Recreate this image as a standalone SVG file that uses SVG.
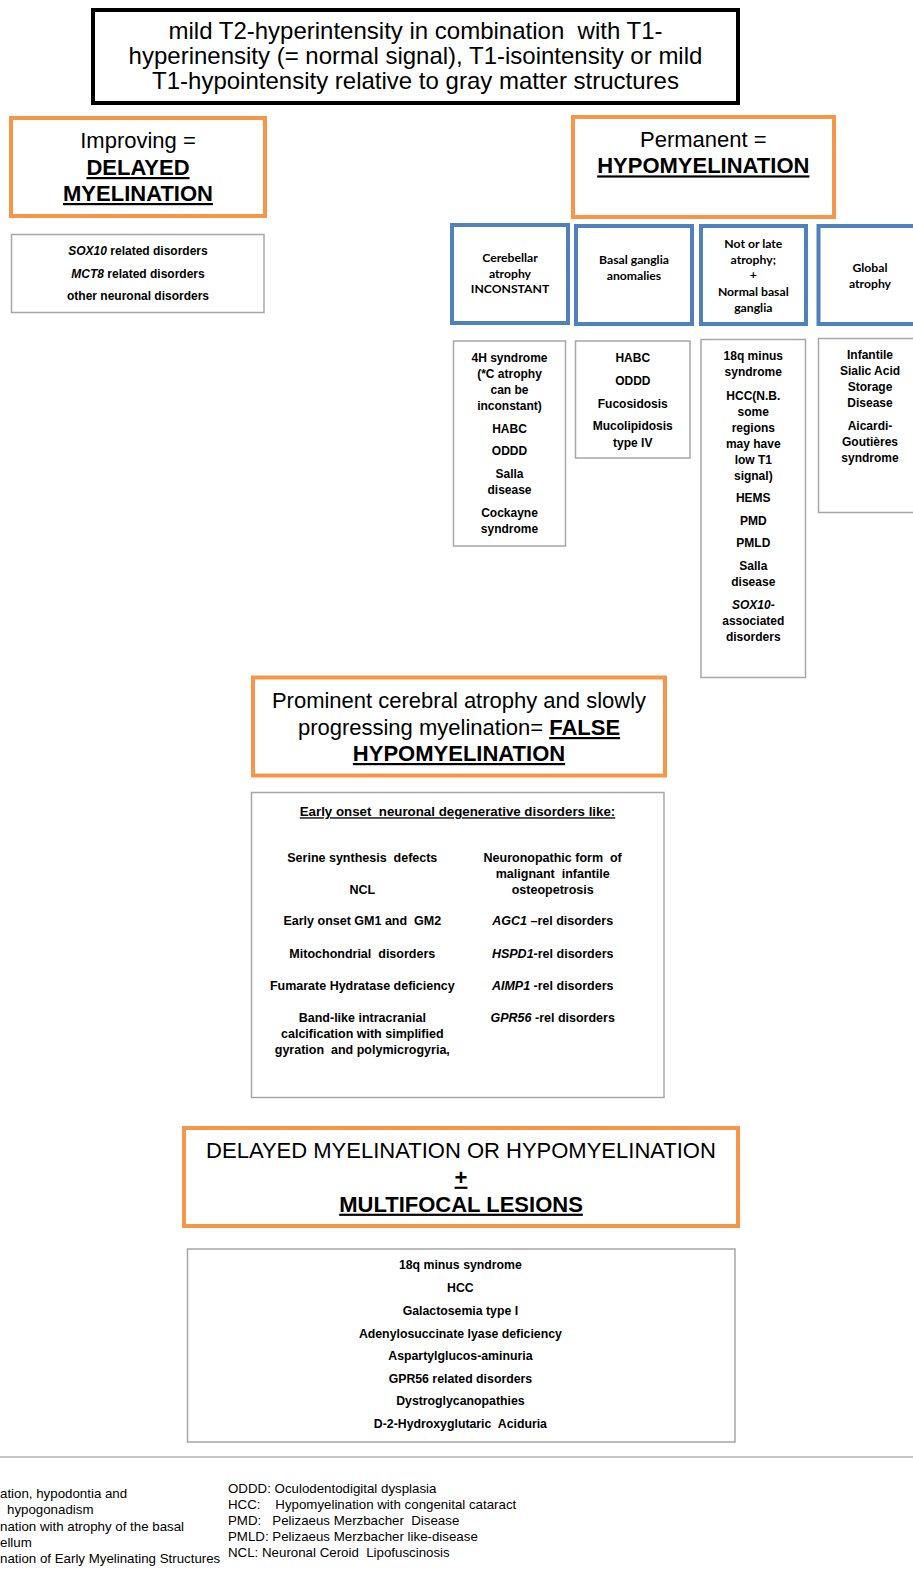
<svg xmlns="http://www.w3.org/2000/svg" width="913" height="1569" viewBox="0 0 913 1569">
<style>
.bg{fill:#ffffff}
.title{fill:#fff;stroke:#000;stroke-width:4}
.org{fill:#fff;stroke:#F79646;stroke-width:4}
.blu{fill:#fff;stroke:#4F81BD;stroke-width:4}
.lst{fill:#fff;stroke:#a6a6a6;stroke-width:1.5}
text{font-family:"Liberation Sans",Arial,sans-serif;fill:#000;text-anchor:middle;white-space:pre}
.t24{font-size:24px}
.t22{font-size:22px}
.b{font-weight:bold}
.u{text-decoration:underline}
.l12{font-size:12px;font-weight:bold}
.l125{font-size:12.5px;font-weight:bold}
.l123{font-size:12.3px;font-weight:bold}
.cal{font-family:Lato,"Open Sans",sans-serif;font-size:12.2px;font-weight:bold}
.i{font-style:italic}
.leg{font-size:13.3px;text-anchor:start}
</style>
<rect class="bg" x="0" y="0" width="913" height="1569"/>

<g id="title">
<rect class="title" x="93" y="10" width="645" height="93"/>
<text class="t24" x="415.5" y="38.5">mild T2-hyperintensity in combination  with T1-</text>
<text class="t24" x="415.5" y="63.5">hyperinensity (= normal signal), T1-isointensity or mild</text>
<text class="t24" x="415.5" y="88.5">T1-hypointensity relative to gray matter structures</text>
</g>

<g id="delayed">
<rect class="org" x="11" y="118" width="254" height="98"/>
<text class="t22" x="138" y="148">Improving =</text>
<text class="t22 b u" x="138" y="175">DELAYED</text>
<text class="t22 b u" x="138" y="201">MYELINATION</text>
</g>

<g id="delayed-list">
<rect class="lst" x="11.5" y="234.5" width="252.5" height="78"/>
<text class="l12" x="138" y="255.2"><tspan class="i">SOX10</tspan> related disorders</text>
<text class="l12" x="138" y="277.9"><tspan class="i">MCT8</tspan> related disorders</text>
<text class="l12" x="138" y="300.2">other neuronal disorders</text>
</g>

<g id="permanent">
<rect class="org" x="573" y="117" width="261" height="100"/>
<text class="t22" x="703.3" y="146.7">Permanent =</text>
<text class="t22 b u" x="703.3" y="173.4">HYPOMYELINATION</text>
</g>

<g id="cerebellar">
<rect class="blu" x="452" y="225" width="116" height="98"/>
<text class="cal" x="510" y="261.5">Cerebellar</text>
<text class="cal" x="510" y="277.5">atrophy</text>
<text class="cal" x="510" y="293.2">INCONSTANT</text>
</g>
<g id="basal">
<rect class="blu" x="576" y="226" width="116" height="98"/>
<text class="cal" x="634" y="263.5">Basal ganglia</text>
<text class="cal" x="634" y="279.5">anomalies</text>
</g>
<g id="notlate">
<rect class="blu" x="701" y="226" width="105" height="98"/>
<text class="cal" x="753.3" y="247.5">Not or late</text>
<text class="cal" x="753.3" y="263.5">atrophy;</text>
<text class="cal" x="753.3" y="279.2">+</text>
<text class="cal" x="753.3" y="295.5">Normal basal</text>
<text class="cal" x="753.3" y="311.5">ganglia</text>
</g>
<g id="global">
<rect class="blu" x="818.5" y="226" width="104" height="98"/>
<text class="cal" x="870" y="271.9">Global</text>
<text class="cal" x="870" y="288.2">atrophy</text>
</g>

<g id="cerebellar-list">
<rect class="lst" x="453.5" y="341" width="112" height="205"/>
<text class="l12" x="509.5" y="361.9">4H syndrome</text>
<text class="l12" x="509.5" y="378.2">(*C atrophy</text>
<text class="l12" x="509.5" y="394.2">can be</text>
<text class="l12" x="509.5" y="409.9">inconstant)</text>
<text class="l12" x="509.5" y="432.5">HABC</text>
<text class="l12" x="509.5" y="455.2">ODDD</text>
<text class="l12" x="509.5" y="478.2">Salla</text>
<text class="l12" x="509.5" y="494.2">disease</text>
<text class="l12" x="509.5" y="516.9">Cockayne</text>
<text class="l12" x="509.5" y="532.5">syndrome</text>
</g>

<g id="basal-list">
<rect class="lst" x="575.5" y="341" width="114.5" height="117"/>
<text class="l12" x="632.8" y="361.9">HABC</text>
<text class="l12" x="632.8" y="384.5">ODDD</text>
<text class="l12" x="632.8" y="407.5">Fucosidosis</text>
<text class="l12" x="632.8" y="430.2">Mucolipidosis</text>
<text class="l12" x="632.8" y="446.5">type IV</text>
</g>

<g id="notlate-list">
<rect class="lst" x="701" y="339.5" width="104.5" height="338"/>
<text class="l12" x="753.3" y="360.2">18q minus</text>
<text class="l12" x="753.3" y="376.2">syndrome</text>
<text class="l12" x="753.3" y="399.5">HCC(N.B.</text>
<text class="l12" x="753.3" y="415.5">some</text>
<text class="l12" x="753.3" y="431.5">regions</text>
<text class="l12" x="753.3" y="447.5">may have</text>
<text class="l12" x="753.3" y="463.5">low T1</text>
<text class="l12" x="753.3" y="479.5">signal)</text>
<text class="l12" x="753.3" y="501.9">HEMS</text>
<text class="l12" x="753.3" y="524.5">PMD</text>
<text class="l12" x="753.3" y="547.2">PMLD</text>
<text class="l12" x="753.3" y="570.2">Salla</text>
<text class="l12" x="753.3" y="585.9">disease</text>
<text class="l12 i" x="753.3" y="608.9">SOX10-</text>
<text class="l12" x="753.3" y="624.9">associated</text>
<text class="l12" x="753.3" y="640.5">disorders</text>
</g>

<g id="global-list">
<rect class="lst" x="818.5" y="338.5" width="104" height="174"/>
<text class="l12" x="870" y="358.5">Infantile</text>
<text class="l12" x="870" y="374.5">Sialic Acid</text>
<text class="l12" x="870" y="390.5">Storage</text>
<text class="l12" x="870" y="406.9">Disease</text>
<text class="l12" x="870" y="429.9">Aicardi-</text>
<text class="l12" x="870" y="445.9">Goutières</text>
<text class="l12" x="870" y="461.9">syndrome</text>
</g>

<g id="false-hypo">
<rect class="org" x="253" y="677.5" width="412" height="98"/>
<text class="t22" x="459" y="708.4">Prominent cerebral atrophy and slowly</text>
<text class="t22" x="459" y="735">progressing myelination= <tspan class="b u">FALSE</tspan></text>
<text class="t22 b u" x="459" y="761">HYPOMYELINATION</text>
</g>

<g id="false-list">
<rect class="lst" x="251.5" y="792.5" width="412.5" height="305"/>
<text class="b u" style="font-size:13.3px" x="457.5" y="816.3">Early onset  neuronal degenerative disorders like:</text>
<text class="l125" x="362.3" y="861.7">Serine synthesis  defects</text>
<text class="l125" x="362.3" y="893.7">NCL</text>
<text class="l125" x="362.3" y="925.4">Early onset GM1 and  GM2</text>
<text class="l125" x="362.3" y="957.7">Mitochondrial  disorders</text>
<text class="l125" x="362.3" y="989.7">Fumarate Hydratase deficiency</text>
<text class="l125" x="362.3" y="1022.1">Band-like intracranial</text>
<text class="l125" x="362.3" y="1038.1">calcification with simplified</text>
<text class="l125" x="362.3" y="1054.4">gyration  and polymicrogyria,</text>
<text class="l125" x="552.7" y="861.7">Neuronopathic form  of</text>
<text class="l125" x="552.7" y="877.7">malignant  infantile</text>
<text class="l125" x="552.7" y="893.7">osteopetrosis</text>
<text class="l125" x="552.7" y="925.4"><tspan class="i">AGC1</tspan> –rel disorders</text>
<text class="l125" x="552.7" y="957.7"><tspan class="i">HSPD1</tspan>-rel disorders</text>
<text class="l125" x="552.7" y="989.7"><tspan class="i">AIMP1</tspan> -rel disorders</text>
<text class="l125" x="552.7" y="1022.1"><tspan class="i">GPR56</tspan> -rel disorders</text>
</g>

<g id="multifocal">
<rect class="org" x="184" y="1128" width="554" height="98"/>
<text class="t22" x="461" y="1158.4">DELAYED MYELINATION OR HYPOMYELINATION</text>
<text class="t22 b u" x="461" y="1184.7">+</text>
<text class="t22 b u" x="461" y="1211.7">MULTIFOCAL LESIONS</text>
</g>

<g id="multifocal-list">
<rect class="lst" x="187.5" y="1249" width="547.5" height="193"/>
<text class="l123" x="460.4" y="1269.2">18q minus syndrome</text>
<text class="l123" x="460.4" y="1291.9">HCC</text>
<text class="l123" x="460.4" y="1314.9">Galactosemia type I</text>
<text class="l123" x="460.4" y="1337.5">Adenylosuccinate lyase deficiency</text>
<text class="l123" x="460.4" y="1359.9">Aspartylglucos-aminuria</text>
<text class="l123" x="460.4" y="1382.9">GPR56 related disorders</text>
<text class="l123" x="460.4" y="1405.2">Dystroglycanopathies</text>
<text class="l123" x="460.4" y="1428.2">D-2-Hydroxyglutaric  Aciduria</text>
</g>

<g id="connectors"></g>

<line x1="0" y1="1457" x2="913" y2="1457" stroke="#8c8c8c" stroke-width="1.2"/>

<g id="legend">
<text class="leg" x="0" y="1497.5">ation, hypodontia and</text>
<text class="leg" x="7" y="1514">hypogonadism</text>
<text class="leg" x="0" y="1530.7">nation with atrophy of the basal</text>
<text class="leg" x="0" y="1547">ellum</text>
<text class="leg" x="0" y="1563">nation of Early Myelinating Structures</text>
<text class="leg" x="228" y="1492.5">ODDD: Oculodentodigital dysplasia</text>
<text class="leg" x="228" y="1508.5">HCC:    Hypomyelination with congenital cataract</text>
<text class="leg" x="228" y="1524.5">PMD:   Pelizaeus Merzbacher  Disease</text>
<text class="leg" x="228" y="1540.5">PMLD: Pelizaeus Merzbacher like-disease</text>
<text class="leg" x="228" y="1556.5">NCL: Neuronal Ceroid  Lipofuscinosis</text>
</g>
</svg>
